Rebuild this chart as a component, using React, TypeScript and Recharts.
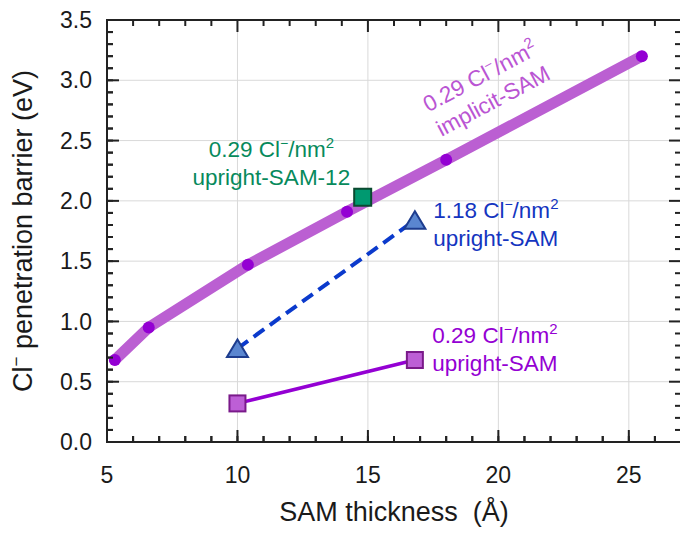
import { CartesianGrid, Line, LineChart, ReferenceDot, XAxis, YAxis } from "recharts";

const FONT = '"Liberation Sans", Arial, sans-serif';
const INK = "#222222";

// SAM thickness (Å) / barrier (eV)
const implicitX = [5.3, 6.6, 10.4, 14.2, 18.0, 25.5];
const implicitY = [0.68, 0.95, 1.47, 1.91, 2.34, 3.2];
const sam12X = [14.8];
const sam12Y = [2.03];
const denseX = [10.0, 16.8];
const denseY = [0.775, 1.84];
const uprightX = [10.0, 16.8];
const uprightY = [0.32, 0.68];

const xTicks = [5, 6, 7, 8, 9, 10, 11, 12, 13, 14, 15, 16, 17, 18, 19, 20, 21, 22, 23, 24, 25, 26, 27];
const xMajor = [5, 10, 15, 20, 25];
const yTicks = [
  0, 0.1, 0.2, 0.3, 0.4, 0.5, 0.6, 0.7, 0.8, 0.9, 1.0, 1.1, 1.2, 1.3, 1.4, 1.5, 1.6, 1.7,
  1.8, 1.9, 2.0, 2.1, 2.2, 2.3, 2.4, 2.5, 2.6, 2.7, 2.8, 2.9, 3.0, 3.1, 3.2, 3.3, 3.4, 3.5,
];
const yMajor = [0, 0.5, 1.0, 1.5, 2.0, 2.5, 3.0, 3.5];

const X_MIN = 5;
const X_MAX = 27;
const Y_MIN = 0;
const Y_MAX = 3.5;

// chart geometry
const W = 690;
const H = 535;
const M = { top: 20, right: 9, bottom: 0, left: 0 };
const Y_AXIS_W = 107;
const X_AXIS_H = 93;
const PLOT_X = M.left + Y_AXIS_W;
const PLOT_Y = M.top;
const PLOT_W = W - M.left - M.right - Y_AXIS_W;
const PLOT_H = H - M.top - M.bottom - X_AXIS_H;
const MAJ = 12;
const MIN = 6;

const pts = (xs: number[], ys: number[]) => xs.map((x, i) => ({ x, y: ys[i] }));

const isMajorX = (v: number) => xMajor.includes(v);
const isMajorY = (v: number) => Math.abs(v * 2 - Math.round(v * 2)) < 1e-6;

// frame position of a tick value (same linear mapping as the chart's axes)
const fx = (v: number) => PLOT_X + ((v - X_MIN) / (X_MAX - X_MIN)) * PLOT_W;
const fy = (v: number) => PLOT_Y + PLOT_H - ((v - Y_MIN) / (Y_MAX - Y_MIN)) * PLOT_H;

// two-line note: "<num> Cl⁻/nm²" over a second line
const Note = ({ cx, cy, num, second, color, anchor, angle }: any) => (
  <g transform={angle ? `rotate(${angle}, ${cx}, ${cy})` : undefined} fontFamily={FONT} fontSize={22.5} fill={color}>
    <text x={cx} y={cy} textAnchor={anchor}>
      <tspan>{num} Cl</tspan>
      <tspan dy={-9} fontSize={14}>−</tspan>
      <tspan dy={9}>/nm</tspan>
      <tspan dy={-9} fontSize={15}>2</tspan>
    </text>
    <text x={cx} y={cy + 28} textAnchor={anchor}>
      {second}
    </text>
  </g>
);

const square = (fill: string, stroke: string, size: number) => (p: any) => (
  <rect
    key={`sq-${p.index}`}
    x={p.cx - size / 2}
    y={p.cy - size / 2}
    width={size}
    height={size}
    fill={fill}
    stroke={stroke}
    strokeWidth={2}
  />
);

const triangle = (p: any) => (
  <polygon
    key={`tri-${p.index}`}
    points={`${p.cx},${p.cy - 9} ${p.cx - 10.5},${p.cy + 8.5} ${p.cx + 10.5},${p.cy + 8.5}`}
    fill="#5A86D0"
    stroke="#1D3C8E"
    strokeWidth={2}
  />
);

// box frame with inward ticks on all four sides
function Frame() {
  const top = PLOT_Y;
  const bottom = PLOT_Y + PLOT_H;
  const left = PLOT_X;
  const right = PLOT_X + PLOT_W;
  return (
    <svg width={680} height={535} style={{ position: "absolute", left: 0, top: 0, pointerEvents: "none" }}>
      <g stroke={INK} strokeWidth={2} fill="none">
        <rect x={left} y={top} width={PLOT_W} height={PLOT_H} />
        {xTicks.map((v) => {
          const len = isMajorX(v) ? MAJ : MIN;
          return (
            <g key={`x-${v}`}>
              <line x1={fx(v)} x2={fx(v)} y1={bottom} y2={bottom - len} />
              <line x1={fx(v)} x2={fx(v)} y1={top} y2={top + len} />
            </g>
          );
        })}
        {yTicks.map((v) => {
          const len = isMajorY(v) ? MAJ : MIN;
          return (
            <g key={`y-${v}`}>
              <line x1={left} x2={left + len} y1={fy(v)} y2={fy(v)} />
              <line x1={right} x2={right - len} y1={fy(v)} y2={fy(v)} />
            </g>
          );
        })}
      </g>
    </svg>
  );
}

export default function App() {
  return (
    <div
      style={{
        position: "absolute",
        left: 0,
        top: 0,
        width: 680,
        height: 535,
        overflow: "hidden",
        background: "#fff",
        fontFamily: FONT,
        fontSize: 23,
      }}
    >
      <LineChart width={W} height={H} margin={M}>
        <CartesianGrid stroke="#d9d9d9" strokeWidth={1} verticalValues={xMajor} horizontalValues={yMajor} />
        <XAxis
          type="number"
          dataKey="x"
          domain={[X_MIN, X_MAX]}
          ticks={xTicks}
          interval={0}
          height={X_AXIS_H}
          stroke="#1a1a1a"
          tickSize={-MIN}
          tickMargin={31}
          tickLine={{ stroke: INK, strokeWidth: 2 }}
          axisLine={{ stroke: INK, strokeWidth: 2 }}
          tickFormatter={(v: number) => (isMajorX(v) ? String(v) : "")}
        />
        <YAxis
          type="number"
          domain={[Y_MIN, Y_MAX]}
          ticks={yTicks}
          interval={0}
          width={Y_AXIS_W}
          stroke="#1a1a1a"
          tickSize={-MIN}
          tickMargin={21}
          tickLine={{ stroke: INK, strokeWidth: 2 }}
          axisLine={{ stroke: INK, strokeWidth: 2 }}
          tickFormatter={(v: number) => (isMajorY(v) ? v.toFixed(1) : "")}
        />

        <Line
          data={pts(implicitX, implicitY)}
          dataKey="y"
          type="linear"
          stroke="#BB5FD2"
          strokeWidth={11}
          strokeLinecap="round"
          strokeLinejoin="round"
          dot={{ r: 6, fill: "#9400D3", stroke: "none" }}
          activeDot={false}
          isAnimationActive={false}
        />
        <Line
          data={pts(sam12X, sam12Y)}
          dataKey="y"
          stroke="none"
          dot={square("#009970", "#0A4A30", 17)}
          activeDot={false}
          isAnimationActive={false}
        />
        <Line
          data={pts(denseX, denseY)}
          dataKey="y"
          type="linear"
          stroke="#0B3ACC"
          strokeWidth={4}
          strokeDasharray="13 7"
          dot={triangle}
          activeDot={false}
          isAnimationActive={false}
        />
        <Line
          data={pts(uprightX, uprightY)}
          dataKey="y"
          type="linear"
          stroke="#9400D3"
          strokeWidth={3.5}
          dot={square("#BD5FD6", "#7A1A8A", 16)}
          activeDot={false}
          isAnimationActive={false}
        />

        {/* axis titles */}
        <ReferenceDot
          x={(X_MIN + X_MAX) / 2}
          y={Y_MIN}
          shape={(p: any) => (
            <text x={p.cx} y={p.cy + 79} textAnchor="middle" fontSize={27} fontFamily={FONT} fill="#1a1a1a">
              {"SAM thickness\u00A0 (Å)"}
            </text>
          )}
        />
        <ReferenceDot
          x={X_MIN}
          y={(Y_MIN + Y_MAX) / 2}
          shape={(p: any) => {
            const cx = p.cx - 75;
            const cy = p.cy;
            return (
              <text
                transform={`rotate(-90, ${cx}, ${cy})`}
                x={cx}
                y={cy}
                textAnchor="middle"
                fontSize={27}
                fontFamily={FONT}
                fill="#1a1a1a"
              >
                <tspan>Cl</tspan>
                <tspan dy={-10} fontSize={17}>−</tspan>
                <tspan dy={10}> penetration barrier (eV)</tspan>
              </text>
            );
          }}
        />

        <ReferenceDot
          x={11.3}
          y={2.363}
          shape={(p: any) => (
            <Note cx={p.cx} cy={p.cy} num="0.29" second="upright-SAM-12" color="#078A5C" anchor="middle" />
          )}
        />
        <ReferenceDot
          x={17.5}
          y={1.857}
          shape={(p: any) => (
            <Note cx={p.cx} cy={p.cy} num="1.18" second="upright-SAM" color="#1435C0" anchor="start" />
          )}
        />
        <ReferenceDot
          x={17.47}
          y={0.821}
          shape={(p: any) => (
            <Note cx={p.cx} cy={p.cy} num="0.29" second="upright-SAM" color="#9400D3" anchor="start" />
          )}
        />
        <ReferenceDot
          x={19.43}
          y={2.977}
          shape={(p: any) => (
            <Note cx={p.cx} cy={p.cy} num="0.29" second="implicit-SAM" color="#BA55D3" anchor="middle" angle={-28} />
          )}
        />
      </LineChart>
      <Frame />
    </div>
  );
}
